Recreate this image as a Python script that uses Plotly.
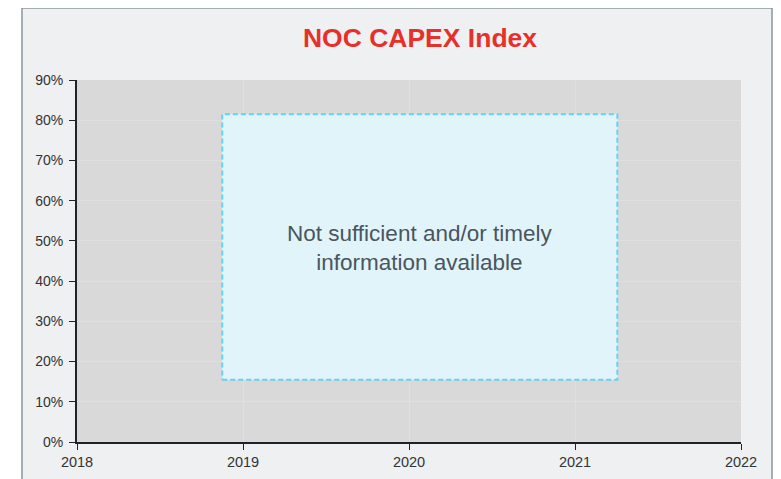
import plotly.graph_objects as go

years = [2018, 2019, 2020, 2021, 2022]
y_ticks = [0, 0.1, 0.2, 0.3, 0.4, 0.5, 0.6, 0.7, 0.8, 0.9]
y_tick_labels = ["0%", "10%", "20%", "30%", "40%", "50%", "60%", "70%", "80%", "90%"]
box_x = [2018.875, 2021.255]
box_y = [0.155, 0.815]
message = "Not sufficient and/or timely<br>information available"
title = "NOC CAPEX Index"

OFF = 8  # page body margin
W, H = 781 - OFF, 479 - OFF
# target screen positions of plot area
SL, SR, ST, SB = 77, 741, 80, 442
ML, MT = SL - OFF, ST - OFF
MR = W - (SR - OFF)
MB = H - (SB - OFF)
pw, ph = W - ML - MR, H - MT - MB

def px(sx):
    return (sx - OFF - ML) / pw

def py(sy):
    return (H - MB - (sy - OFF)) / ph

fig = go.Figure()
fig.add_trace(go.Scatter(
    x=[box_x[0], box_x[1], box_x[1], box_x[0], box_x[0]],
    y=[box_y[0], box_y[0], box_y[1], box_y[1], box_y[0]],
    mode="lines", fill="toself", fillcolor="#e1f4fa",
    line=dict(color="#68d0ef", width=2, dash="5px,3px"),
    hoverinfo="skip", showlegend=False,
))

fig.add_annotation(
    x=(box_x[0] + box_x[1]) / 2, y=(box_y[0] + box_y[1]) / 2, xref="x", yref="y",
    text=message, showarrow=False, yanchor="middle",
    font=dict(family="Liberation Sans, Arial", size=22.5, color="#4a555e"),
    yshift=-1,
)

shapes = [
    dict(type="rect", xref="paper", yref="paper", x0=px(-20), x1=px(22), y0=py(520), y1=py(-20),
         fillcolor="white", line=dict(width=0), layer="below"),
    dict(type="rect", xref="paper", yref="paper", x0=px(22), x1=px(772), y0=py(520), y1=py(8),
         fillcolor="rgba(0,0,0,0)", line=dict(color="#8c979c", width=1.5), layer="above"),
]

fig.update_layout(
    width=W, height=H,
    margin=dict(l=ML, r=MR, t=MT, b=MB, autoexpand=False),
    paper_bgcolor="#eff0f2",
    plot_bgcolor="#d9d9d9",
    shapes=shapes,
    showlegend=False,
    title=dict(text="<b>" + title + "</b>", x=(420 - OFF) / W, xanchor="center",
               y=1 - (38 - OFF) / H, yanchor="middle", automargin=False,
               font=dict(family="Liberation Sans, Arial", size=26.5, color="#e8302a")),
    font=dict(family="Liberation Sans, Arial", size=14, color="#333333"),
    xaxis=dict(range=[years[0], years[-1]], tickvals=years, ticktext=[str(y) for y in years],
               showgrid=True, gridcolor="#dfdfdf", gridwidth=1,
               showline=True, linecolor="#1e2328", linewidth=2,
               ticks="outside", ticklen=6, tickcolor="#1e2328", tickwidth=1,
               tickfont=dict(size=14.5),
               automargin=False, zeroline=False, fixedrange=True),
    yaxis=dict(range=[0, 0.9], tickvals=y_ticks, ticktext=y_tick_labels,
               showgrid=True, gridcolor="#dfdfdf", gridwidth=1,
               showline=True, linecolor="#1e2328", linewidth=2,
               ticks="outside", ticklen=6, tickcolor="#1e2328", tickwidth=1,
               ticklabelstandoff=3, automargin=False,
               zeroline=False, fixedrange=True),
)

fig.write_html("out.html")
